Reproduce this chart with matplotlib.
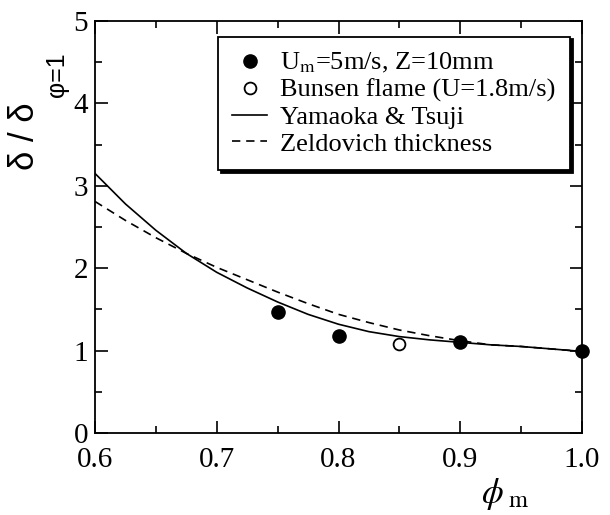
import matplotlib
matplotlib.use("Agg")
import matplotlib.pyplot as plt
from matplotlib.ticker import MultipleLocator

# measured points
phi_filled = [0.75, 0.80, 0.90, 1.00]
ratio_filled = [1.47, 1.18, 1.10, 1.00]
phi_open = [0.85]
ratio_open = [1.08]

# Yamaoka & Tsuji curve
phi_yt = [0.600, 0.625, 0.650, 0.675, 0.700, 0.725, 0.750, 0.775, 0.800,
          0.825, 0.850, 0.875, 0.900, 0.925, 0.950, 0.975, 1.000]
ratio_yt = [3.15, 2.78, 2.46, 2.18, 1.95, 1.76, 1.59, 1.44, 1.32,
            1.23, 1.17, 1.13, 1.10, 1.07, 1.05, 1.02, 0.99]

# Zeldovich thickness curve
phi_zel = [0.600, 0.625, 0.650, 0.675, 0.700, 0.725, 0.750, 0.775, 0.800,
           0.825, 0.850, 0.875, 0.900, 0.925, 0.950, 0.975, 1.000]
ratio_zel = [2.81, 2.58, 2.37, 2.18, 2.01, 1.86, 1.71, 1.57, 1.44,
             1.34, 1.25, 1.18, 1.12, 1.07, 1.05, 1.02, 0.99]

plt.rcParams["font.family"] = ["Liberation Serif", "DejaVu Serif"]
plt.rcParams["mathtext.fontset"] = "stix"

fig = plt.figure(figsize=(6.1, 5.15), dpi=100)
ax = fig.add_axes([95 / 610, 1 - 433 / 515, 487 / 610, 412 / 515])

ax.plot(phi_yt, ratio_yt, color="k", lw=1.2, label="Yamaoka & Tsuji")
ax.plot(phi_zel, ratio_zel, color="k", lw=1.2, ls=(0, (5, 3.5)),
        label="Zeldovich thickness")
ax.plot(phi_filled, ratio_filled, "o", color="k", ms=9.5, ls="none",
        label=r"U$_\mathrm{m}$=5m/s, Z=10mm", zorder=4, clip_on=False)
ax.plot(phi_open, ratio_open, "o", mfc="white", mec="k", mew=1.3, ms=8.5,
        ls="none", label="Bunsen flame (U=1.8m/s)", zorder=4)

ax.set_xlim(0.6, 1.0)
ax.set_ylim(0, 5)
ax.xaxis.set_major_locator(MultipleLocator(0.1))
ax.xaxis.set_minor_locator(MultipleLocator(0.05))
ax.yaxis.set_major_locator(MultipleLocator(1))
ax.yaxis.set_minor_locator(MultipleLocator(0.5))
ax.set_xticks([0.6, 0.7, 0.8, 0.9, 1.0])
ax.set_xticklabels(["0.6", "0.7", "0.8", "0.9", "1.0"])
ax.tick_params(which="both", direction="in", top=True, right=True,
               width=1.2, labelsize=21)
ax.tick_params(which="major", length=9)
ax.tick_params(which="minor", length=5)
ax.tick_params(axis="x", pad=10)
ax.tick_params(axis="y", pad=5)
for s in ax.spines.values():
    s.set_linewidth(1.3)

handles, labels = ax.get_legend_handles_labels()
order = [2, 3, 0, 1]
leg = ax.legend([handles[i] for i in order], [labels[i] for i in order],
                loc="upper right", bbox_to_anchor=(0.975, 0.962),
                fontsize=19, frameon=True, fancybox=False,
                shadow={"color": "k", "alpha": 1.0},
                handlelength=1.3, handletextpad=0.5, labelspacing=0.12,
                borderpad=0.55, borderaxespad=0)
leg.get_frame().set_edgecolor("k")
leg.get_frame().set_linewidth(1.3)

# y label: upright sans deltas with a small subscript
fig.text(24 / 610, 1 - 136 / 515, "δ / δ", rotation=90, ha="center",
         va="center", fontsize=25, family="Liberation Sans")
fig.text(57 / 610, 1 - 75 / 515, "φ=1", rotation=90, ha="center",
         va="center", fontsize=18, family="Liberation Sans")
fig.text(505 / 610, 1 - 494 / 515, r"$\phi_{\ \mathrm{m}}$",
         ha="center", va="center", fontsize=25)

fig.savefig("out.png", dpi=100)
